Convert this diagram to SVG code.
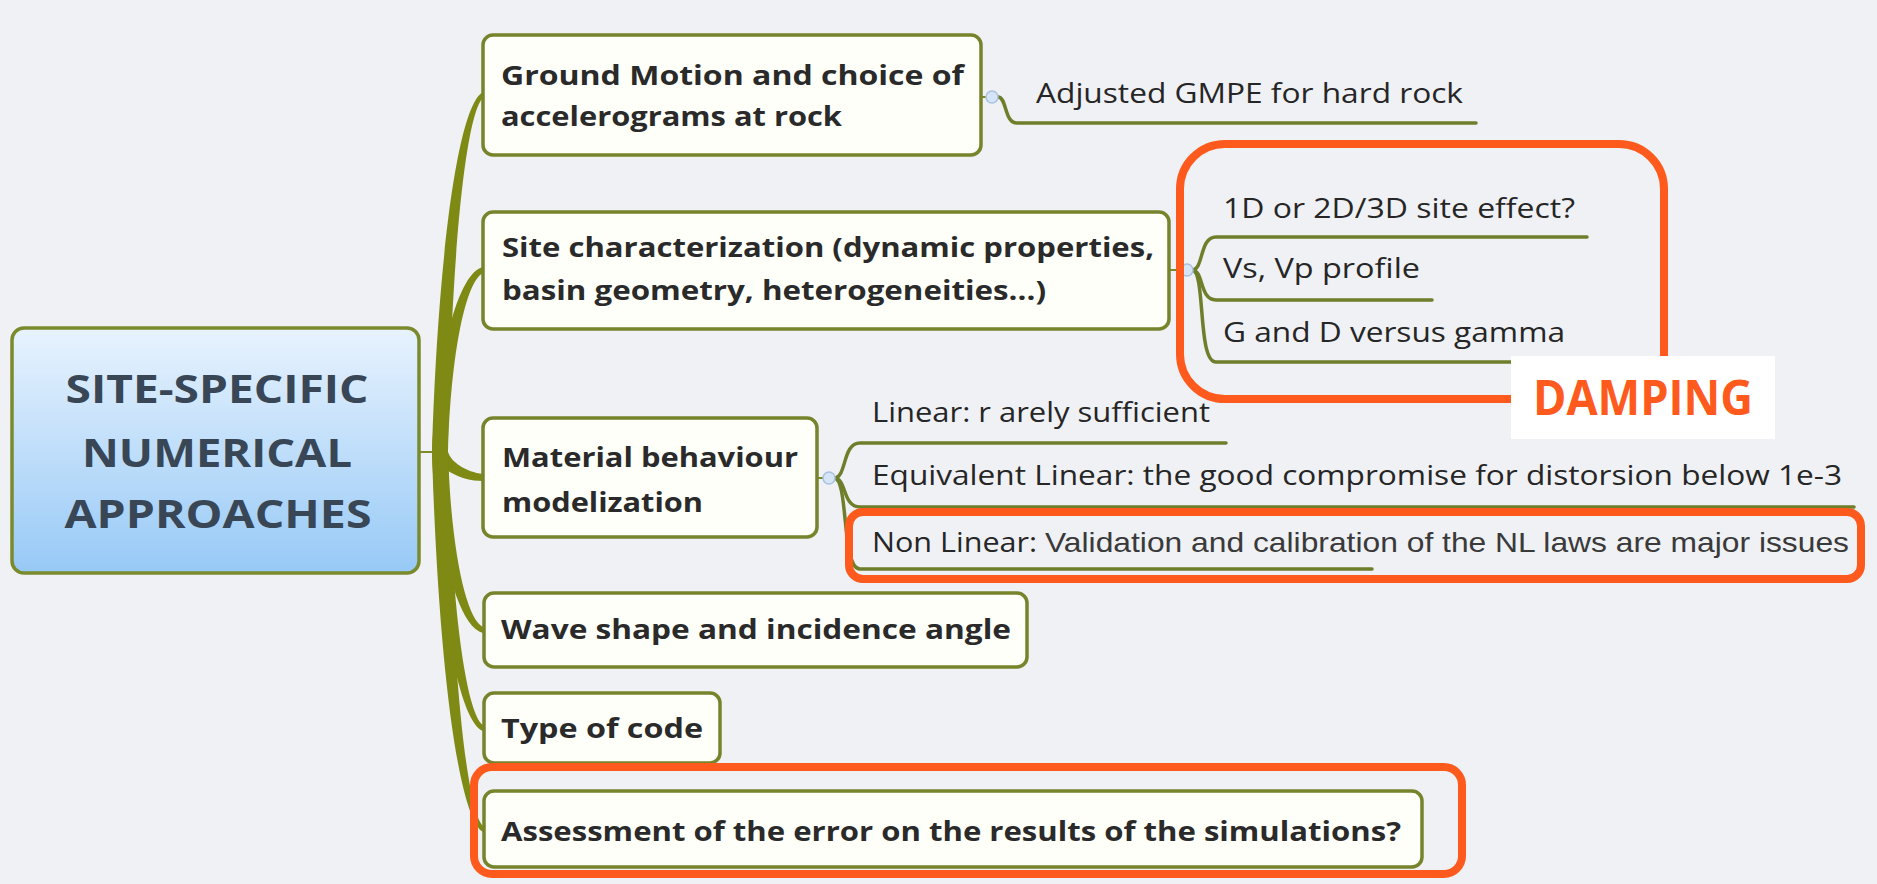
<svg xmlns="http://www.w3.org/2000/svg" width="1877" height="884" viewBox="0 0 1877 884">
<defs>
<linearGradient id="rootGrad" x1="0" y1="0" x2="0" y2="1">
<stop offset="0" stop-color="#e8f3fe"/>
<stop offset="1" stop-color="#97c9f6"/>
</linearGradient>
</defs>
<style>
.bg{fill:#eff1f5}
.branch{fill:#7e8a14}
.box{fill:#fffffa;stroke:#77842c;stroke-width:3.5}
.root{fill:url(#rootGrad);stroke:#7a8a2c;stroke-width:3.5}
.bt{font-family:"Open Sans","Noto Sans",sans-serif;font-weight:bold;font-size:26px;fill:#2a2a2a}
.rt{font-family:"Open Sans","Noto Sans",sans-serif;font-weight:bold;font-size:39px;fill:#384656}
.ct{font-family:"Open Sans","Noto Sans",sans-serif;font-size:28px;fill:#262626}
.at{font-family:"Liberation Sans",Arial,sans-serif;font-size:28px;fill:#3a3a3a}
.sub{fill:none;stroke:#6f7e2a;stroke-width:3.5;stroke-linecap:round}
.thin{fill:none;stroke:#7e8a2a;stroke-width:2}
.knob{fill:#d5e5f7;stroke:#a9c2de;stroke-width:1.5}
.hl{fill:none;stroke:#fe5a1d;stroke-width:8}
.dt{font-family:"Open Sans","Noto Sans",sans-serif;font-weight:bold;font-size:48px;fill:#fe5a1d}
</style>
<rect class="bg" x="0" y="0" width="1877" height="884"/>

<g id="connectors">
<line class="thin" x1="419" y1="452" x2="440" y2="452"/>
<path class="branch" d="M432,452 C438,256 458,105 483,92 L483,98 C466,113 451,256 448,452 Z"/>
<path class="branch" d="M432,452 C438,352 458,273 483,267 L483,273 C466,281 451,352 448,452 Z"/>
<path class="branch" d="M432,452 C438,468 459,481 483,481 L483,474 C466,472 451,462 448,452 Z"/>
<path class="branch" d="M432,452 C438,550 458,627 483,633 L483,627 C466,619 451,550 448,452 Z"/>
<path class="branch" d="M432,452 C438,604 458,721 483,731 L483,725 C466,713 451,604 448,452 Z"/>
<path class="branch" d="M432,452 C438,659 458,818 483,832 L483,826 C466,810 451,659 448,452 Z"/>
<line class="thin" x1="981" y1="97" x2="988" y2="97"/>
<path class="sub" d="M998,97 C1007,97 1004,123 1017,123 L1476,123"/>
<line class="thin" x1="1169" y1="270" x2="1182" y2="270"/>
<path class="sub" d="M1192,270 C1204,270 1199,237 1216,237 L1587,237"/>
<path class="sub" d="M1192,270 C1204,270 1199,300 1216,300 L1432,300"/>
<path class="sub" d="M1192,270 C1206,270 1197,362 1216,362 L1530,362"/>
<line class="thin" x1="817" y1="478" x2="824" y2="478"/>
<path class="sub" d="M834,478 C847,478 842,443 860,443 L1226,443"/>
<path class="sub" d="M834,478 C847,478 842,507 860,507 L1854,507"/>
<path class="sub" d="M834,478 C849,478 841,569 860,569 L1372,569"/>
<circle class="knob" cx="992" cy="97" r="6"/>
<circle class="knob" cx="1187" cy="270" r="6"/>
<circle class="knob" cx="829" cy="478" r="6"/>
</g>

<g id="root-node">
<rect class="root" x="12" y="328" width="407" height="245" rx="12"/>
<text class="rt" x="217" y="403" text-anchor="middle" textLength="303" lengthAdjust="spacingAndGlyphs">SITE-SPECIFIC</text>
<text class="rt" x="217" y="467" text-anchor="middle" textLength="270" lengthAdjust="spacingAndGlyphs">NUMERICAL</text>
<text class="rt" x="218" y="528" text-anchor="middle" textLength="307" lengthAdjust="spacingAndGlyphs">APPROACHES</text>
</g>

<g id="node-ground-motion">
<rect class="box" x="483" y="35" width="498" height="120" rx="10"/>
<text class="bt" x="501" y="85" textLength="463" lengthAdjust="spacingAndGlyphs">Ground Motion and choice of</text>
<text class="bt" x="501" y="126" textLength="341" lengthAdjust="spacingAndGlyphs">accelerograms at rock</text>
</g>
<g id="node-adjusted">
<text class="ct" x="1036" y="103" textLength="427" lengthAdjust="spacingAndGlyphs">Adjusted GMPE for hard rock</text>
</g>

<g id="node-site">
<rect class="box" x="483" y="212" width="686" height="117" rx="10"/>
<text class="bt" x="502" y="257" textLength="652" lengthAdjust="spacingAndGlyphs">Site characterization (dynamic properties,</text>
<text class="bt" x="502" y="300" textLength="544" lengthAdjust="spacingAndGlyphs">basin geometry, heterogeneities...)</text>
</g>
<g id="node-1d">
<text class="ct" x="1223" y="218" textLength="352" lengthAdjust="spacingAndGlyphs">1D or 2D/3D site effect?</text>
</g>
<g id="node-vs">
<text class="ct" x="1223" y="278" textLength="197" lengthAdjust="spacingAndGlyphs">Vs, Vp profile</text>
</g>
<g id="node-gd">
<text class="ct" x="1223" y="342" textLength="342" lengthAdjust="spacingAndGlyphs">G and D versus gamma</text>
</g>

<g id="node-material">
<rect class="box" x="483" y="418" width="334" height="119" rx="10"/>
<text class="bt" x="502" y="467" textLength="296" lengthAdjust="spacingAndGlyphs">Material behaviour</text>
<text class="bt" x="502" y="512" textLength="201" lengthAdjust="spacingAndGlyphs">modelization</text>
</g>
<g id="node-linear">
<text class="ct" x="872" y="422" textLength="338" lengthAdjust="spacingAndGlyphs">Linear: r arely sufficient</text>
</g>
<g id="node-equivalent">
<text class="ct" x="872" y="485" textLength="970" lengthAdjust="spacingAndGlyphs">Equivalent Linear: the good compromise for distorsion below 1e-3</text>
</g>
<g id="node-nonlinear">
<text class="ct" x="872" y="552" textLength="165" lengthAdjust="spacingAndGlyphs">Non Linear:</text>
<text class="at" x="1045" y="552" textLength="804" lengthAdjust="spacingAndGlyphs">Validation and calibration of the NL laws are major issues</text>
</g>

<g id="node-wave">
<rect class="box" x="484" y="593" width="543" height="74" rx="10"/>
<text class="bt" x="501" y="639" textLength="510" lengthAdjust="spacingAndGlyphs">Wave shape and incidence angle</text>
</g>
<g id="node-type">
<rect class="box" x="484" y="693" width="236" height="70" rx="10"/>
<text class="bt" x="501" y="738" textLength="202" lengthAdjust="spacingAndGlyphs">Type of code</text>
</g>
<g id="node-assessment">
<rect class="box" x="484" y="791" width="938" height="76" rx="10"/>
<text class="bt" x="501" y="841" textLength="900" lengthAdjust="spacingAndGlyphs">Assessment of the error on the results of the simulations?</text>
</g>

<g id="highlights">
<rect class="hl" x="1180" y="144" width="484" height="255" rx="45"/>
<rect class="hl" x="849" y="512" width="1012" height="67" rx="14" stroke-width="7"/>
<rect class="hl" x="474" y="767" width="988" height="107" rx="18"/>
</g>
<g id="damping">
<rect x="1511" y="356" width="264" height="83" fill="#ffffff"/>
<text class="dt" x="1533" y="415" textLength="220" lengthAdjust="spacingAndGlyphs">DAMPING</text>
</g>
</svg>
